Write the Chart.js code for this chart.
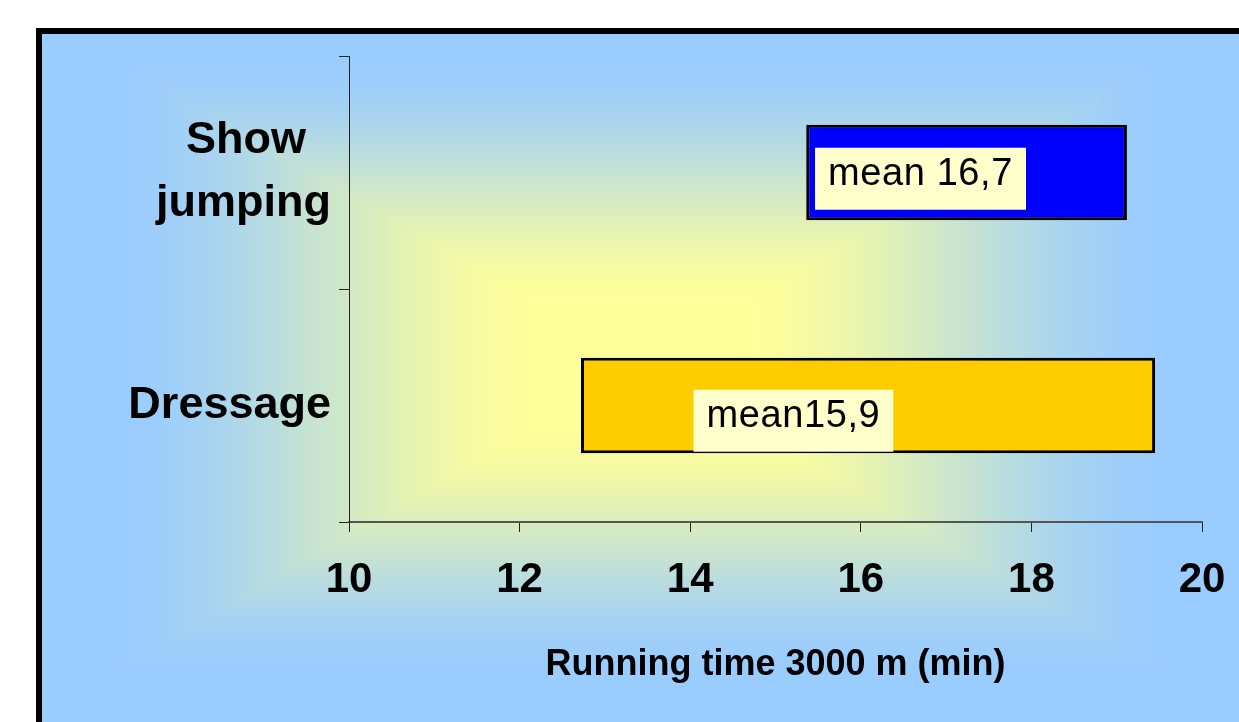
<!DOCTYPE html>
<html>
<head>
<meta charset="utf-8">
<script src="https://cdn.jsdelivr.net/npm/chart.js@4.4.1/dist/chart.umd.min.js"></script>
<style>
  html, body { margin: 0; padding: 0; background: #fff; overflow: hidden; }
  canvas { display: block; }
</style>
</head>
<body>
<canvas id="chart" width="1239" height="722"></canvas>
<script>
// Running time over 3000 m, by discipline (minutes)
const categories = [['Show', 'jumping'], 'Dressage'];
const rangeStart = [15.36, 12.72];
const rangeEnd = [19.12, 19.45];
const meanValues = [16.7, 15.9];
const meanLabels = ['mean 16,7', 'mean15,9'];
const xTickMin = 10;
const xTickMax = 20;
const xTickStep = 2;
const barColors = ['#0000FF', '#FFCC00'];

const ranges = rangeStart.map((s, i) => [s, rangeEnd[i]]);

const SANS = '"Liberation Sans", Arial, Helvetica, sans-serif';

// Slide backdrop: white page, black frame, rectangular yellow-to-blue fill
const backdrop = {
  id: 'backdrop',
  beforeDraw(chart) {
    const W = chart.width, H = chart.height;
    if (!this._cache) {
      const off = document.createElement('canvas');
      off.width = W; off.height = H;
      const o = off.getContext('2d');
      o.fillStyle = '#ffffff';
      o.fillRect(0, 0, W, H);
      o.fillStyle = '#000000';
      o.fillRect(36, 28, W - 36, H - 28);
      const x0 = 42, y0 = 34;
      const img = o.createImageData(W - x0, H - y0);
      const cx = 640, cy = 365, hw = 540, hh = 315;
      const inner = [255, 255, 153], outer = [153, 204, 255];
      for (let y = y0; y < H; y++) {
        for (let x = x0; x < W; x++) {
          const t = Math.min(1, Math.max(Math.abs(x - cx) / hw, Math.abs(y - cy) / hh));
          const u = Math.max(0, (t - 0.15) / 0.85);
          const s = u * u * (3 - 2 * u);
          const k = ((y - y0) * (W - x0) + (x - x0)) * 4;
          img.data[k] = inner[0] + (outer[0] - inner[0]) * s;
          img.data[k + 1] = inner[1] + (outer[1] - inner[1]) * s;
          img.data[k + 2] = inner[2] + (outer[2] - inner[2]) * s;
          img.data[k + 3] = 255;
        }
      }
      o.putImageData(img, x0, y0);
      this._cache = off;
    }
    chart.ctx.drawImage(this._cache, 0, 0);
  }
};

// "mean" tags laid over each range bar
const meanTags = {
  id: 'meanTags',
  afterDatasetsDraw(chart, args, opts) {
    const ctx = chart.ctx;
    const xs = chart.scales.x;
    const meta = chart.getDatasetMeta(0);
    ctx.save();
    ctx.font = opts.font;
    if ('letterSpacing' in ctx) ctx.letterSpacing = opts.letterSpacing;
    meta.data.forEach((bar, i) => {
      const { y, height } = bar.getProps(['y', 'height'], true);
      const text = meanLabels[i];
      const w = ctx.measureText(text).width + opts.padX * 2;
      const cx = xs.getPixelForValue(opts.centers[i]);
      const top = y - height / 2 + opts.drop[i];
      ctx.fillStyle = opts.fill;
      ctx.fillRect(cx - w / 2, top, w, opts.boxHeight);
      ctx.fillStyle = '#000000';
      ctx.textAlign = 'center';
      ctx.textBaseline = 'alphabetic';
      ctx.fillText(text, cx, top + opts.baseline);
    });
    ctx.restore();
  }
};

// centre the lines of a multi-line category label within its block
const measureCtx = document.createElement('canvas').getContext('2d');
function centredLines(label, font) {
  if (!Array.isArray(label)) return label;
  measureCtx.font = font;
  const widths = label.map(l => measureCtx.measureText(l).width);
  const maxW = Math.max(...widths);
  const spaceW = measureCtx.measureText(' ').width;
  return label.map((l, i) => l + ' '.repeat(Math.round((maxW - widths[i]) / 2 / spaceW)));
}

new Chart(document.getElementById('chart'), {
  type: 'bar',
  data: {
    labels: categories,
    datasets: [{
      data: ranges,
      backgroundColor: barColors,
      borderColor: '#000000',
      borderWidth: 3,
      borderSkipped: false,
      categoryPercentage: 1,
      barPercentage: 0.41
    }]
  },
  options: {
    indexAxis: 'y',
    responsive: false,
    animation: false,
    devicePixelRatio: 1,
    layout: { padding: { top: 56, right: 37, left: 0, bottom: 0 } },
    plugins: {
      legend: { display: false },
      tooltip: { enabled: false },
      meanTags: {
        centers: [16.7, 15.21],
        drop: [23, 32],
        font: '38px ' + SANS,
        letterSpacing: '0.6px',
        fill: '#FFFFCC',
        padX: 13,
        boxHeight: 62,
        baseline: 37
      }
    },
    scales: {
      x: {
        type: 'linear',
        min: xTickMin,
        max: xTickMax,
        ticks: {
          stepSize: xTickStep,
          color: '#000000',
          padding: 23,
          font: { family: SANS, size: 42, weight: 'bold' }
        },
        grid: { drawOnChartArea: false, drawTicks: true, tickLength: 10, color: '#222222', lineWidth: 1 },
        border: { color: '#555555', width: 2 },
        title: {
          display: true,
          text: 'Running time 3000 m (min)',
          color: '#000000',
          font: { family: SANS, size: 36, weight: 'bold' },
          padding: { top: 0, bottom: 35 }
        },
        afterFit(scale) {
          scale.height = 200;
          scale.paddingLeft = 0;
          scale.paddingRight = 0;
        }
      },
      y: {
        type: 'category',
        offset: true,
        grid: { offset: true, drawOnChartArea: false, drawTicks: true, tickLength: 10, color: '#222222', lineWidth: 1 },
        border: { color: '#222222', width: 1 },
        ticks: {
          color: '#000000',
          padding: 8,
          font: { family: SANS, size: 45, weight: 'bold', lineHeight: 1.4 },
          callback(value) {
            return centredLines(this.getLabelForValue(value), 'bold 45px ' + SANS);
          }
        },
        afterFit(scale) { scale.width = 349; }
      }
    }
  },
  plugins: [backdrop, meanTags]
});
</script>
</body>
</html>
